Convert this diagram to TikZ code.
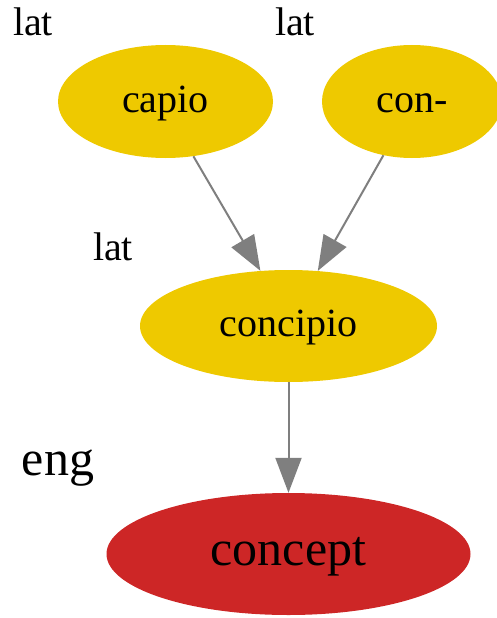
\documentclass[tikz,border=0pt]{standalone}
\usepackage{fontspec}
\setmainfont{Liberation Serif}
\usetikzlibrary{shapes.geometric,arrows.meta}
\definecolor{nodegold}{HTML}{EEC900}
\definecolor{nodered}{HTML}{CD2626}
\definecolor{edgegray}{HTML}{7F7F7F}
\tikzset{
  latnode/.style={ellipse, fill=nodegold, inner sep=0pt,
    font=\fontsize{40}{48}\selectfont, text height=29pt, text depth=8pt},
  engnode/.style={ellipse, fill=nodered, inner sep=0pt,
    font=\fontsize{50}{60}\selectfont, text height=33pt, text depth=11pt},
  langlabel/.style={anchor=base, inner sep=0pt, font=\fontsize{40}{48}\selectfont},
  englabel/.style={anchor=base, inner sep=0pt, font=\fontsize{50}{60}\selectfont},
  edge/.style={draw=edgegray, line width=2pt,
    -{Triangle[length=35pt, width=26pt, fill=edgegray]}}
}
\begin{document}
\begin{tikzpicture}[x=1pt,y=-1pt]
\useasboundingbox (0,0) rectangle (496,618);
\node[latnode, minimum width=215pt, minimum height=113pt] (capio) at (165.5,101.5) {capio};
\node[latnode, minimum width=180pt, minimum height=113pt] (con) at (412,101.5) {con-};
\node[latnode, minimum width=297pt, minimum height=112pt] (concipio) at (288.5,326) {concipio};
\node[engnode, minimum width=364pt, minimum height=122pt] (concept) at (288.5,554) {concept};
\node[langlabel] (lat1) at (33,36) {lat};
\node[langlabel] (lat2) at (295,36) {lat};
\node[langlabel] (lat3) at (113,260) {lat};
\node[englabel] (eng) at (58,475) {eng};
\draw[edge] (capio.-63.6) -- (concipio.117.8);
\draw[edge] (con.242.4) -- (concipio.62.2);
\draw[edge] (concipio.south) -- (concept.north);
\end{tikzpicture}
\end{document}
